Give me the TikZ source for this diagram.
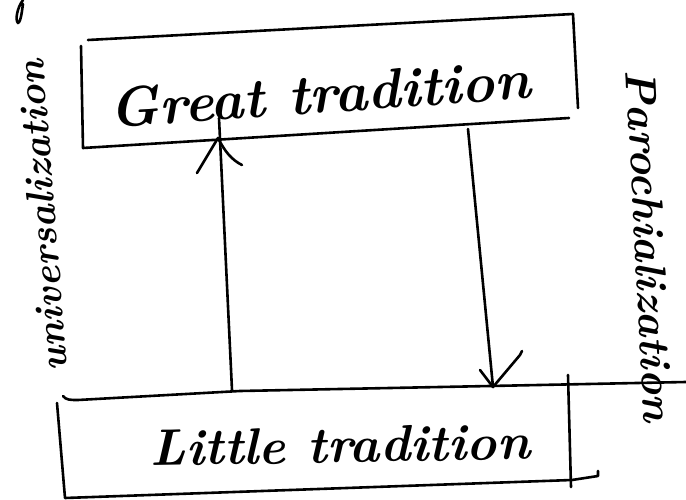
\documentclass[tikz,border=0pt]{standalone}
\usepackage{graphicx}
\begin{document}
\begin{tikzpicture}[x=1pt,y=-1pt,
  ink/.style={line width=2.6pt, line cap=round, line join=round, black},
  hand/.style={font=\bfseries\itshape, inner sep=0pt, text=black}]
\useasboundingbox (0,0) rectangle (686,500);

% loose pen stroke at the top-left corner
\draw[ink] (23,0) .. controls (17,8) and (15,20) .. (18,23) .. controls (21,22) and (22,10) .. (23,4);

% upper box
\draw[ink] (88,40) -- (573,14) -- (578,108);
\draw[ink] (81,46) -- (83,148) -- (569,118);
\node[hand, rotate=4] (great) at (320,94) {\resizebox{422pt}{!}{Great tradition}};

% lower box, its top line running on to the right margin
\draw[ink] (63,396) .. controls (66,400) and (70,400) .. (78,400) -- (240,391) -- (490,386) -- (686,382);
\draw[ink] (57,403) -- (65,498) -- (572,480) -- (598,476) -- (598,471);
\draw[ink] (568,375) -- (571,487);
\node[hand, rotate=1] (little) at (340,445) {\resizebox{380pt}{!}{Little tradition}};

% arrow ends
\coordinate (upFoot) at (232,390);
\coordinate (upTop) at (219,118);
\coordinate (upTip) at (218,138);
\coordinate (downTop) at (468,129);
\coordinate (downTip) at (493,387);

% upward arrow, little to great
\draw[ink] (upFoot) -- (upTop);
\draw[ink] (197,173) -- (upTip) .. controls (225,152) and (232,160) .. (242,165);

% downward arrow, great to little
\draw[ink] (downTop) -- (downTip);
\draw[ink] (480,370) -- (downTip) -- (520,355) -- (522,351);

% side labels
\node[hand, rotate=94.5] (univ) at (42,216) {\resizebox{313pt}{!}{universalization}};
\node[hand, rotate=-87] (paro) at (650,246) {\resizebox{353pt}{!}{Parochialization}};
\end{tikzpicture}
\end{document}
